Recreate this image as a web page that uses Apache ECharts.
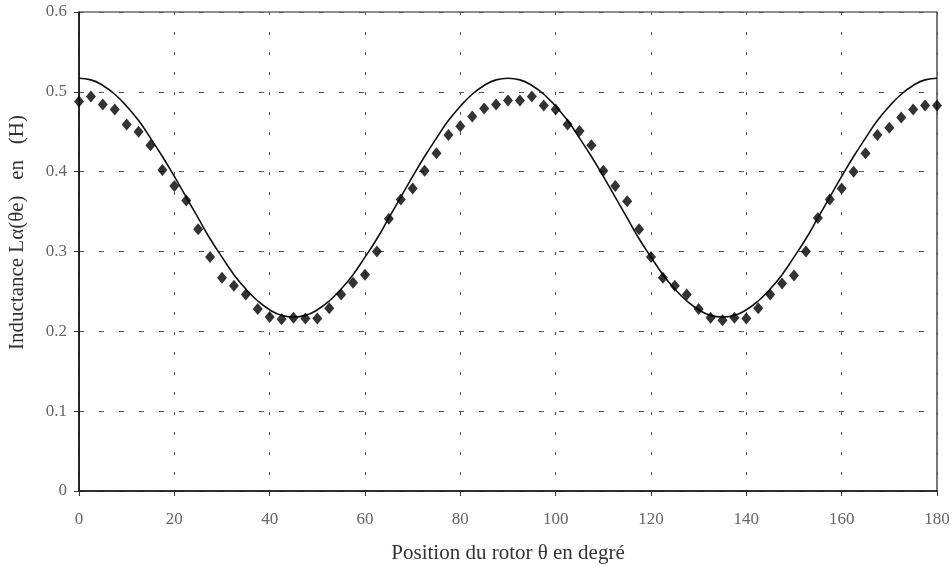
<!DOCTYPE html>
<html>
<head>
<meta charset="utf-8">
<script src="https://cdn.jsdelivr.net/npm/echarts@6/dist/echarts.min.js"></script>
<style>html,body{margin:0;padding:0;background:#fff;}#c{width:952px;height:573px;}</style>
</head>
<body>
<div id="c"></div>
<script>
// Rotor positions (degrees) for the measured points, every 2.5°
var measuredTheta = [0,2.5,5,7.5,10,12.5,15,17.5,20,22.5,25,27.5,30,32.5,35,37.5,40,42.5,45,47.5,50,52.5,55,57.5,60,62.5,65,67.5,70,72.5,75,77.5,80,82.5,85,87.5,90,92.5,95,97.5,100,102.5,105,107.5,110,112.5,115,117.5,120,122.5,125,127.5,130,132.5,135,137.5,140,142.5,145,147.5,150,152.5,155,157.5,160,162.5,165,167.5,170,172.5,175,177.5,180];
// Measured inductance (H), diamonds
var measuredL = [0.488,0.494,0.484,0.478,0.459,0.450,0.433,0.402,0.382,0.364,0.328,0.293,0.267,0.257,0.246,0.228,0.218,0.215,0.217,0.216,0.216,0.229,0.246,0.261,0.271,0.300,0.341,0.365,0.379,0.401,0.423,0.446,0.457,0.469,0.479,0.484,0.489,0.489,0.494,0.483,0.478,0.459,0.451,0.433,0.401,0.382,0.363,0.328,0.293,0.267,0.257,0.246,0.228,0.217,0.214,0.217,0.216,0.229,0.246,0.260,0.270,0.300,0.342,0.365,0.379,0.400,0.423,0.446,0.455,0.468,0.478,0.483,0.483];
// Computed inductance curve (H), solid line, read every 2.5°
var curveTheta = measuredTheta;
var curveL = [0.517,0.515,0.508,0.497,0.482,0.464,0.442,0.419,0.394,0.368,0.342,0.316,0.293,0.271,0.253,0.238,0.227,0.220,0.218,0.220,0.227,0.238,0.253,0.271,0.293,0.316,0.342,0.368,0.394,0.419,0.442,0.464,0.482,0.497,0.508,0.515,0.517,0.515,0.508,0.497,0.482,0.464,0.442,0.419,0.394,0.368,0.342,0.316,0.293,0.271,0.253,0.238,0.227,0.220,0.218,0.220,0.227,0.238,0.253,0.271,0.293,0.316,0.342,0.368,0.394,0.419,0.442,0.464,0.482,0.497,0.508,0.515,0.517];

var xTitle = 'Position du rotor θ en degré';
var yTitle = 'Inductance Lα(θe)   en   (H)';

function pairs(xs, ys){ var r=[]; for(var i=0;i<xs.length;i++) r.push([xs[i], ys[i]]); return r; }

var font = '"Liberation Serif", "DejaVu Serif", serif';
var chart = echarts.init(document.getElementById('c'));
chart.setOption({
  animation: false,
  backgroundColor: '#fff',
  grid: { left: 79, right: 15, top: 12, bottom: 82, containLabel: false, outerBoundsMode: 'none',
          show: true, borderColor: '#222', borderWidth: 1.2 },
  xAxis: {
    type: 'value', min: 0, max: 180, interval: 20,
    name: xTitle, nameLocation: 'middle', nameGap: 52,
    nameTextStyle: { fontFamily: font, fontSize: 21, color: '#333' },
    axisLine: { show: true, lineStyle: { color: '#111', width: 1.6 } },
    axisTick: { show: true, length: 5, lineStyle: { color: '#333' } },
    axisLabel: { fontFamily: font, fontSize: 17, color: '#666', margin: 20 },
    splitLine: { show: true, lineStyle: { color: '#555', width: 1, type: [3, 17] } }
  },
  yAxis: {
    type: 'value', min: 0, max: 0.6, interval: 0.1,
    name: yTitle, nameLocation: 'middle', nameGap: 51,
    nameTextStyle: { fontFamily: font, fontSize: 21, color: '#333', padding: [0, 0, 0, 38] },
    axisLine: { show: true, lineStyle: { color: '#111', width: 1.6 } },
    axisTick: { show: true, length: 5, lineStyle: { color: '#333' } },
    axisLabel: { fontFamily: font, fontSize: 17, color: '#666', margin: 12 },
    splitLine: { show: true, lineStyle: { color: '#555', width: 1, type: [5, 15] } }
  },
  series: [
    {
      type: 'line', data: pairs(curveTheta, curveL), smooth: true,
      showSymbol: false, lineStyle: { color: '#111', width: 1.6 }, z: 2
    },
    {
      type: 'scatter', data: pairs(measuredTheta, measuredL),
      symbol: 'diamond', symbolSize: [10, 12], itemStyle: { color: '#000' }, z: 3
    }
  ]
});
</script>
</body>
</html>
